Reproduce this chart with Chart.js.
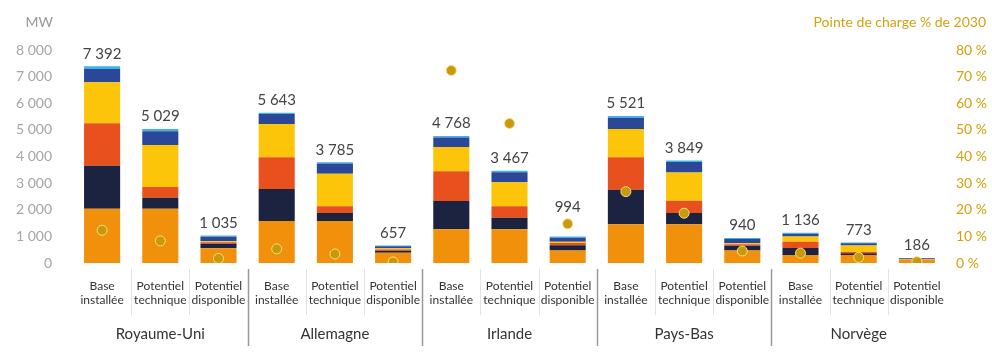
<!DOCTYPE html>
<html>
<head>
<meta charset="utf-8">
<script src="https://cdn.jsdelivr.net/npm/chart.js@4"></script>
<style>
  html, body { margin: 0; padding: 0; background: #fff; }
  #wrap { width: 992px; height: 354px; }
</style>
</head>
<body>
<div id="wrap"><canvas id="myChart" width="992" height="354"></canvas></div>
<script>
const categories = [
    ['Base', 'installée'], ['Potentiel', 'technique'], ['Potentiel', 'disponible'],
    ['Base', 'installée'], ['Potentiel', 'technique'], ['Potentiel', 'disponible'],
    ['Base', 'installée'], ['Potentiel', 'technique'], ['Potentiel', 'disponible'],
    ['Base', 'installée'], ['Potentiel', 'technique'], ['Potentiel', 'disponible'],
    ['Base', 'installée'], ['Potentiel', 'technique'], ['Potentiel', 'disponible']
];
const groups = ['Royaume-Uni', 'Allemagne', 'Irlande', 'Pays-Bas', 'Norvège'];

// MW per segment, bottom to top
const orange    = [2040, 2040, 550, 1580, 1580, 385, 1270, 1270, 470, 1460, 1460, 470, 300, 300, 130];
const navy      = [1610, 410, 170, 1200, 300, 75, 1060, 430, 200, 1290, 420, 180, 260, 70, 5];
const red       = [1595, 400, 60, 1190, 250, 45, 1120, 430, 80, 1220, 460, 50, 240, 40, 5];
const yellow    = [1545, 1580, 40, 1250, 1220, 50, 910, 900, 50, 1060, 1060, 40, 200, 250, 10];
const blue      = [500, 520, 165, 380, 390, 70, 350, 380, 150, 430, 390, 160, 100, 80, 26];
const lightBlue = [102, 79, 50, 43, 45, 32, 58, 57, 44, 61, 59, 40, 36, 33, 10];
const totals    = [7392, 5029, 1035, 5643, 3785, 657, 4768, 3467, 994, 5521, 3849, 940, 1136, 773, 186];

// pointe de charge, % de 2030
const peakShare = [12.3, 8.3, 1.7, 5.3, 3.4, 0.4, 72.3, 52.4, 14.7, 26.8, 18.7, 4.5, 3.7, 2.1, 0.5];

const leftTicks = [0, 1000, 2000, 3000, 4000, 5000, 6000, 7000, 8000];
const rightTicks = [0, 10, 20, 30, 40, 50, 60, 70, 80];

const FONT = 'Lato, sans-serif';
const GOLD = '#D4A20E';

const fmt = v => String(v).replace(/\B(?=(\d{3})+(?!\d))/g, ' ');

const extras = {
    id: 'extras',
    afterDatasetsDraw(chart) {
        const c = chart.ctx;
        const x = chart.scales.x;
        const area = chart.chartArea;
        const topMeta = chart.getDatasetMeta(5);
        const dotMeta = chart.getDatasetMeta(6);
        c.save();
        // totals above bars (and above the dot when it sits just over the bar)
        c.font = '15px ' + FONT;
        c.fillStyle = '#444';
        c.textAlign = 'center';
        c.textBaseline = 'bottom';
        totals.forEach((t, i) => {
            const bar = topMeta.data[i];
            const dot = dotMeta.data[i];
            let y = bar.y - 5;
            if (dot.y < bar.y && dot.y > bar.y - 30) y = dot.y - 9;
            c.fillText(fmt(t), bar.x, y);
        });
        // axis titles
        c.font = '14px ' + FONT;
        c.fillStyle = '#999';
        c.textAlign = 'right';
        c.textBaseline = 'middle';
        c.fillText('MW', 53, 22);
        c.fillStyle = GOLD;
        c.fillText('Pointe de charge % de 2030', 986, 22);
        // separators
        const half = (x.getPixelForValue(1) - x.getPixelForValue(0)) / 2;
        for (let i = 1; i < categories.length; i++) {
            const px = Math.round(x.getPixelForValue(i) - half) + 0.5;
            const major = i % 3 === 0;
            c.strokeStyle = major ? '#999' : '#e3e3e3';
            c.lineWidth = major ? 1.5 : 1;
            c.beginPath();
            c.moveTo(px, area.bottom + 6);
            c.lineTo(px, major ? area.bottom + 83 : area.bottom + 52);
            c.stroke();
        }
        // group labels
        c.font = '15px ' + FONT;
        c.fillStyle = '#333';
        c.textAlign = 'center';
        groups.forEach((g, gi) => {
            c.fillText(g, x.getPixelForValue(gi * 3 + 1), area.bottom + 71);
        });
        c.restore();
    }
};

const barSet = (label, data, color) => ({
    type: 'bar', label, data, backgroundColor: color, borderWidth: 0,
    yAxisID: 'y', stack: 'mw', order: 1,
    barPercentage: 0.62, categoryPercentage: 1
});

const ctx = document.getElementById('myChart').getContext('2d');
const myChart = new Chart(ctx, {
    data: {
        labels: categories,
        datasets: [
            barSet('Série 1', orange, '#F0900B'),
            barSet('Série 2', navy, '#1B2340'),
            barSet('Série 3', red, '#E8501E'),
            barSet('Série 4', yellow, '#FDC50A'),
            barSet('Série 5', blue, '#2A4798'),
            barSet('Série 6', lightBlue, '#3DB5E8'),
            {
                type: 'line',
                label: 'Pointe de charge % de 2030',
                data: peakShare,
                yAxisID: 'y1',
                showLine: false,
                order: 0,
                pointRadius: 5,
                pointBackgroundColor: '#C99A06',
                pointBorderColor: '#F3DC90',
                pointBorderWidth: 1
            }
        ]
    },
    options: {
        responsive: false,
        animation: false,
        layout: { padding: { top: 50, bottom: 0, left: 0, right: 0 } },
        plugins: { legend: { display: false }, tooltip: { enabled: false } },
        scales: {
            x: {
                stacked: true,
                grid: { display: false, drawTicks: false },
                border: { display: false },
                ticks: {
                    font: { family: FONT, size: 12 },
                    color: '#333',
                    padding: 16,
                    maxRotation: 0,
                    autoSkip: false
                },
                afterFit(s) { s.height = 91; }
            },
            y: {
                stacked: true,
                position: 'left',
                min: 0, max: 8000,
                grid: { display: false, drawTicks: false },
                border: { display: false },
                afterBuildTicks(s) { s.ticks = leftTicks.map(v => ({ value: v })); },
                ticks: {
                    font: { family: FONT, size: 14 },
                    color: '#a6a6a6',
                    padding: 21,
                    callback: v => fmt(v)
                },
                afterFit(s) { s.width = 73; }
            },
            y1: {
                position: 'right',
                min: 0, max: 80,
                grid: { display: false, drawTicks: false },
                border: { display: false },
                afterBuildTicks(s) { s.ticks = rightTicks.map(v => ({ value: v })); },
                ticks: {
                    font: { family: FONT, size: 14 },
                    color: GOLD,
                    padding: 10,
                    callback: v => v + ' %'
                },
                afterFit(s) { s.width = 46; }
            }
        }
    },
    plugins: [extras]
});
</script>
</body>
</html>
